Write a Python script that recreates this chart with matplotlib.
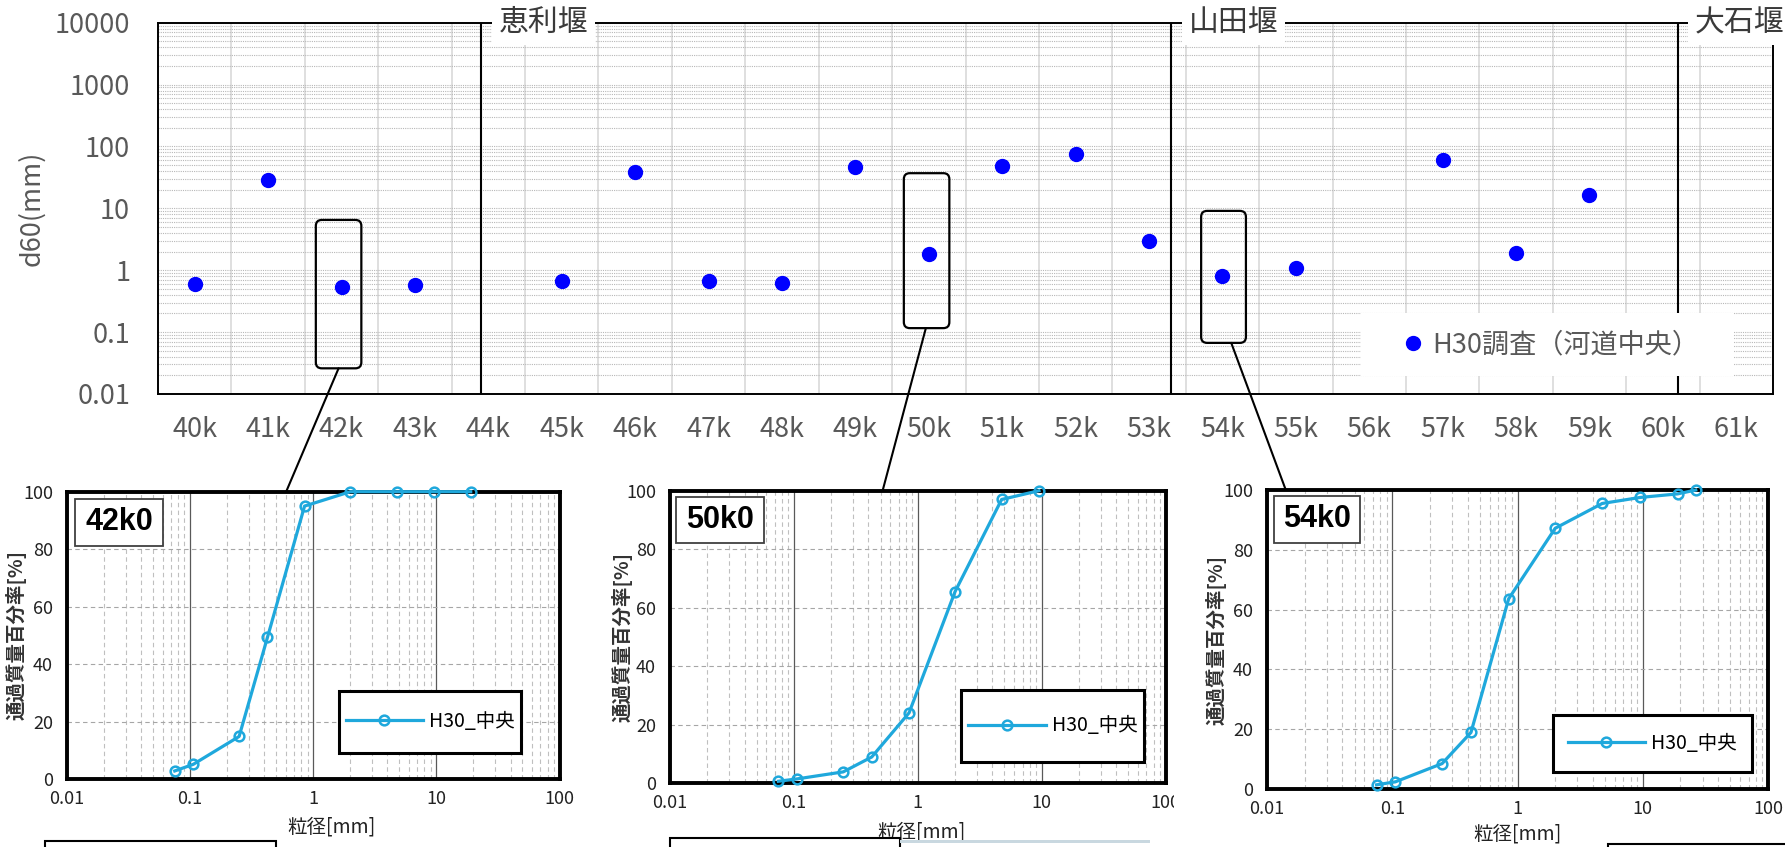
import matplotlib
matplotlib.use("Agg")
import numpy as np
import matplotlib.pyplot as plt
from matplotlib.patches import Rectangle, FancyBboxPatch, ConnectionPatch
from matplotlib.ticker import FixedLocator, LogLocator, NullFormatter

plt.rcParams["font.family"] = ["Noto Sans CJK JP", "DejaVu Sans"]

# ── Top chart data: d60 along the river ─────────────────────────────────────
km_pos = list(range(40, 62))
km_labels = [f"{k}k" for k in km_pos]
d60_km = [40, 41, 42, 43, 45, 46, 47, 48, 49, 50, 51, 52, 53, 54, 55, 57, 58, 59]
d60_val = [0.60, 28.5, 0.53, 0.575, 0.66, 38.4, 0.66, 0.62, 46.9, 1.84,
           48.0, 76.9, 2.99, 0.81, 1.08, 61.5, 1.91, 16.3]
y_ticks = [0.01, 0.1, 1, 10, 100, 1000, 10000]
y_tick_labels = ["0.01", "0.1", "1", "10", "100", "1000", "10000"]

weir_names = ["恵利堰", "山田堰", "大石堰"]
weir_km = [43.9, 53.3, 60.2]

# callout boxes (km range, d60 range) and connector start points
callout_km = [(41.65, 42.27), (49.66, 50.28), (53.71, 54.32)]
callout_d60 = [(0.026, 6.5), (0.116, 37.0), (0.067, 9.1)]
link_km = [41.96, 49.96, 54.12]
link_frac = [0.445, 0.429, 0.0375]

# ── Bottom charts: grain size distribution ──────────────────────────────────
sections = ["42k0", "50k0", "54k0"]
sieve_42 = [0.075, 0.106, 0.25, 0.425, 0.85, 2, 4.75, 9.5, 19]
pass_42 = [2.9, 5.2, 14.9, 49.4, 95.0, 100, 100, 100, 100]
sieve_50 = [0.075, 0.106, 0.25, 0.425, 0.85, 2, 4.75, 9.5]
pass_50 = [0.6, 1.4, 3.8, 8.9, 24.0, 65.5, 97.0, 100]
sieve_54 = [0.075, 0.106, 0.25, 0.425, 0.85, 2, 4.75, 9.5, 19, 26.5]
pass_54 = [1.4, 2.4, 8.5, 18.9, 63.6, 87.2, 95.5, 97.5, 98.7, 100]
sieves = [sieve_42, sieve_50, sieve_54]
passes = [pass_42, pass_50, pass_54]

GREY_TXT = "#595959"
BLUE_DOT = "#0000FF"
CYAN = "#1FA8DC"

W, H = 1785, 847
fig = plt.figure(figsize=(W / 100, H / 100), dpi=100)
fig.patch.set_facecolor("white")

# ── Top axes ────────────────────────────────────────────────────────────────
ax = fig.add_axes([158 / W, 1 - 394 / H, 1615 / W, (394 - 22.7) / H])
ax.set_yscale("log")
ax.set_ylim(0.01, 10000)
ax.set_xlim(39.5, 61.5)

ax.yaxis.set_major_locator(FixedLocator(y_ticks))
ax.set_yticklabels(y_tick_labels)
ax.yaxis.set_minor_locator(LogLocator(base=10, subs=np.arange(2, 10)))
ax.yaxis.set_minor_formatter(NullFormatter())
ax.set_xticks(km_pos)
ax.set_xticklabels(km_labels)
ax.set_xticks([k + 0.5 for k in km_pos[:-1]], minor=True)

ax.tick_params(axis="both", which="both", length=0, labelsize=19.5, colors=GREY_TXT)
ax.tick_params(axis="x", pad=16)
ax.tick_params(axis="y", pad=20)
ax.grid(which="both", axis="y", color="#B8B8B8", ls=(0, (1, 1)), lw=0.8)
ax.grid(which="minor", axis="x", color="#D9D9D9", ls="-", lw=1.2)
ax.set_axisbelow(True)
for sp in ax.spines.values():
    sp.set_color("black")
    sp.set_linewidth(1.4)

ax.set_ylabel("d60(mm)", fontsize=19.5, color=GREY_TXT)
ax.yaxis.set_label_coords(-0.0697, 0.5)

for name, k in zip(weir_names, weir_km):
    ax.axvline(k, color="black", lw=1.5, zorder=2)
    ax.text(k + 0.24, 1.0, name, transform=ax.get_xaxis_transform(),
            ha="left", va="center", fontsize=21.5, color="#3A3A3A",
            clip_on=False, zorder=6,
            bbox=dict(facecolor="white", edgecolor="none", pad=5))

ax.plot(d60_km, d60_val, "o", color=BLUE_DOT, markersize=10, ls="none",
        zorder=4, label="H30調査（河道中央）")

ax.add_patch(Rectangle((0.745, 0.0485), 0.231, 0.1695, transform=ax.transAxes,
                       facecolor="white", edgecolor="none", zorder=3))
leg = ax.legend(loc="center", bbox_to_anchor=(0.8605, 0.133), frameon=False,
                fontsize=19.5, handletextpad=0.1, handlelength=1.2, markerscale=1.0)
for t in leg.get_texts():
    t.set_color(GREY_TXT)

# ── Bottom axes ─────────────────────────────────────────────────────────────
panel_rects = [
    (67, 559.5, 491.7, 779.3),
    (670, 1165.6, 490.7, 783.0),
    (1267, 1768, 490.0, 789.0),
]
label_boxes = [(0.016, 0.811, 0.179, 0.164), (0.013, 0.82, 0.176, 0.16),
               (0.013, 0.824, 0.173, 0.156)]
legend_boxes = [(0.553, 0.092, 0.369, 0.216), (0.588, 0.073, 0.369, 0.245),
                (0.570, 0.056, 0.398, 0.192)]
ylab_x = [-0.082, -0.0757, -0.081]
xlab_pos = [(0.537, -0.166), (0.507, -0.167), (0.499, -0.150)]

panels = []
for i, (x0, x1, y0, y1) in enumerate(panel_rects):
    pax = fig.add_axes([x0 / W, 1 - y1 / H, (x1 - x0) / W, (y1 - y0) / H])
    panels.append(pax)
    pax.set_xscale("log")
    pax.set_xlim(0.01, 100)
    pax.set_ylim(0, 100)
    pax.xaxis.set_major_locator(FixedLocator([0.01, 0.1, 1, 10, 100]))
    pax.set_xticklabels(["0.01", "0.1", "1", "10", "100"])
    pax.xaxis.set_minor_locator(LogLocator(base=10, subs=np.arange(2, 10)))
    pax.xaxis.set_minor_formatter(NullFormatter())
    pax.set_yticks([0, 20, 40, 60, 80, 100])
    pax.tick_params(axis="both", which="both", length=0, labelsize=13,
                    colors="#222222")
    pax.tick_params(axis="x", pad=8)
    pax.tick_params(axis="y", pad=10)
    pax.grid(which="minor", axis="x", color="#BFBFBF", ls=(0, (4, 3)), lw=0.8)
    pax.grid(which="major", axis="x", color="#595959", ls="-", lw=0.9)
    pax.grid(which="major", axis="y", color="#A6A6A6", ls=(0, (4, 3)), lw=0.8)
    pax.set_axisbelow(True)
    for sp in pax.spines.values():
        sp.set_color("black")
        sp.set_linewidth(2.8)

    pax.plot(sieves[i], passes[i], "-o", color=CYAN, lw=2.3, markersize=7,
             markerfacecolor="none", markeredgewidth=1.8, label="H30_中央",
             clip_on=False, zorder=4)

    pax.set_ylabel("通過質量百分率[%]", fontsize=14, fontweight="bold",
                   color="#333333")
    pax.yaxis.set_label_coords(ylab_x[i], 0.5)
    pax.set_xlabel("粒径[mm]", fontsize=14, color="#222222")
    pax.xaxis.label.set_va("center")
    pax.xaxis.set_label_coords(*xlab_pos[i])

    bx, by, bw, bh = label_boxes[i]
    pax.add_patch(Rectangle((bx, by), bw, bh, transform=pax.transAxes,
                            facecolor="white", edgecolor="#404040", lw=1.3,
                            zorder=5))
    pax.text(bx + bw / 2, by + bh / 2, sections[i], transform=pax.transAxes,
             ha="center", va="center", fontsize=22, fontweight="bold",
             family=["Liberation Sans", "DejaVu Sans"], zorder=6)

    lx, ly, lw_, lh = legend_boxes[i]
    pax.add_patch(Rectangle((lx, ly), lw_, lh, transform=pax.transAxes,
                            facecolor="white", edgecolor="black", lw=2.2,
                            zorder=5))
    pleg = pax.legend(loc="center", bbox_to_anchor=(lx + lw_ / 2, ly + lh / 2),
                      frameon=False, fontsize=14, handlelength=4,
                      handletextpad=0.3)
    pleg.set_zorder(6)

# ── Callout boxes and connectors ────────────────────────────────────────────
for (k0, k1), (v0, v1), lk, lf, pax in zip(callout_km, callout_d60, link_km,
                                          link_frac, panels):
    p0 = ax.transData.transform((k0, v0)) / fig.dpi
    p1 = ax.transData.transform((k1, v1)) / fig.dpi
    box = FancyBboxPatch(tuple(p0), p1[0] - p0[0], p1[1] - p0[1],
                         boxstyle="round,pad=0,rounding_size=0.06",
                         transform=fig.dpi_scale_trans, facecolor="none",
                         edgecolor="black", lw=1.6, zorder=7)
    fig.add_artist(box)
    con = ConnectionPatch(xyA=(lk, v0), coordsA="data", axesA=ax,
                          xyB=(lf, 1.0), coordsB="axes fraction", axesB=pax,
                          color="black", lw=1.5, zorder=7)
    fig.add_artist(con)

# partial boxes cut off at the bottom edge of the picture
for x0, x1, top in [(45, 276, 841), (670, 900, 838), (1608, 1790, 844)]:
    fig.add_artist(Rectangle((x0 / W, 1 - (top + 20) / H), (x1 - x0) / W,
                             20 / H, transform=fig.transFigure,
                             facecolor="white", edgecolor="black", lw=1.5,
                             zorder=1))
fig.add_artist(Rectangle((900 / W, 1 - 843 / H), 250 / W, 3 / H,
                         transform=fig.transFigure, facecolor="#C9D8E0",
                         edgecolor="none"))
# the middle panel's "100" label is partly hidden in the source
fig.add_artist(Rectangle((1174 / W, 1 - 815 / H), 20 / W, 25 / H,
                         transform=fig.transFigure, facecolor="white",
                         edgecolor="none", zorder=10))

fig.savefig("out.png", dpi=100, facecolor="white")
